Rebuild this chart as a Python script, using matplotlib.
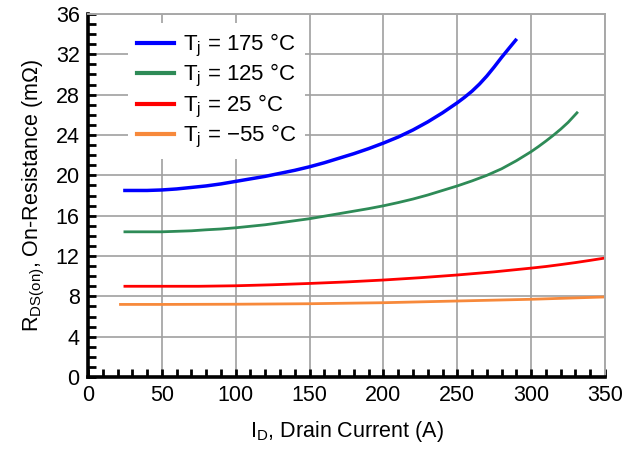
import matplotlib
matplotlib.use('Agg')
import matplotlib.pyplot as plt
from matplotlib.ticker import MultipleLocator

plt.rcParams['font.family'] = ['Liberation Sans', 'DejaVu Sans']
plt.rcParams['mathtext.fontset'] = 'custom'
plt.rcParams['mathtext.rm'] = 'Liberation Sans'
plt.rcParams['mathtext.it'] = 'Liberation Sans:italic'

# Tj = 175 C
x_175 = [25, 40, 50, 60, 70, 80, 90, 100, 110, 120, 130, 140, 150, 160, 170, 180,
         190, 200, 210, 220, 230, 240, 250, 255, 260, 265, 270, 275, 280, 285, 289.5]
y_175 = [18.5, 18.5, 18.55, 18.65, 18.8, 18.95, 19.15, 19.4, 19.65, 19.9, 20.2, 20.5,
         20.85, 21.25, 21.7, 22.15, 22.65, 23.2, 23.8, 24.5, 25.3, 26.2, 27.2, 27.75,
         28.35, 29.05, 29.85, 30.75, 31.7, 32.6, 33.4]

# Tj = 125 C
x_125 = [25, 50, 60, 70, 80, 90, 100, 110, 120, 130, 140, 150, 160, 170, 180, 190,
         200, 210, 220, 230, 240, 250, 260, 270, 280, 290, 300, 305, 310, 315, 320,
         325, 331]
y_125 = [14.4, 14.4, 14.45, 14.5, 14.6, 14.68, 14.8, 14.95, 15.1, 15.3, 15.5, 15.7,
         15.95, 16.2, 16.45, 16.7, 16.98, 17.3, 17.65, 18.05, 18.5, 18.95, 19.45, 20.0,
         20.65, 21.45, 22.35, 22.86, 23.4, 23.97, 24.58, 25.25, 26.2]

# Tj = 25 C
x_25 = [25, 50, 75, 100, 125, 150, 175, 200, 225, 250, 275, 300, 310, 320, 330, 340, 350]
y_25 = [9.0, 9.0, 9.0, 9.05, 9.15, 9.28, 9.43, 9.62, 9.85, 10.12, 10.43, 10.8, 10.96,
        11.15, 11.35, 11.57, 11.8]

# Tj = -55 C
x_m55 = [22, 50, 100, 150, 200, 250, 300, 350]
y_m55 = [7.2, 7.2, 7.22, 7.27, 7.37, 7.54, 7.71, 7.94]

labels = ['T$_\\mathrm{j}$ = 175 °C', 'T$_\\mathrm{j}$ = 125 °C',
          'T$_\\mathrm{j}$ = 25 °C', 'T$_\\mathrm{j}$ = \u221255 °C']

fig = plt.figure(figsize=(6.24, 4.51), dpi=100)
ax = fig.add_axes([0.141, 0.164, 0.8286, 0.805])

ax.plot(x_175, y_175, color='#0000ff', lw=2.5, label=labels[0])
ax.plot(x_125, y_125, color='#2e8b57', lw=2.0, label=labels[1])
ax.plot(x_25, y_25, color='#ff0000', lw=2.0, label=labels[2])
ax.plot(x_m55, y_m55, color='#f7893b', lw=2.0, label=labels[3])

ax.set_xlim(0, 350)
ax.set_ylim(0, 36)
ax.xaxis.set_major_locator(MultipleLocator(50))
ax.xaxis.set_minor_locator(MultipleLocator(10))
ax.yaxis.set_major_locator(MultipleLocator(4))
ax.yaxis.set_minor_locator(MultipleLocator(1))

ax.grid(True, which='major', color='#a0a0a0', lw=1.2)
ax.set_axisbelow(True)

ax.tick_params(which='both', direction='in', length=6, width=2, color='black',
               top=False, right=False, labelsize=15.5, pad=6)

for side in ['left', 'bottom']:
    ax.spines[side].set_linewidth(2.6)
    ax.spines[side].set_color('black')
for side in ['top', 'right']:
    ax.spines[side].set_linewidth(1.4)
    ax.spines[side].set_color('#a8a8a8')

ax.set_xlabel('I$_\\mathrm{D}$, Drain Current (A)', fontsize=15.5, labelpad=9)
ax.set_ylabel('R$_\\mathrm{DS(on)}$, On-Resistance (m\u03a9)', fontsize=15.5, labelpad=6)

leg = ax.legend(loc='upper left', bbox_to_anchor=(0.077, 0.975), borderaxespad=0,
                fontsize=16, handlelength=1.7, handletextpad=0.4, labelspacing=0.15,
                fancybox=False, framealpha=1, edgecolor='none', facecolor='white')
for line in leg.get_lines():
    line.set_linewidth(3)

fig.savefig('out.png', dpi=100)
